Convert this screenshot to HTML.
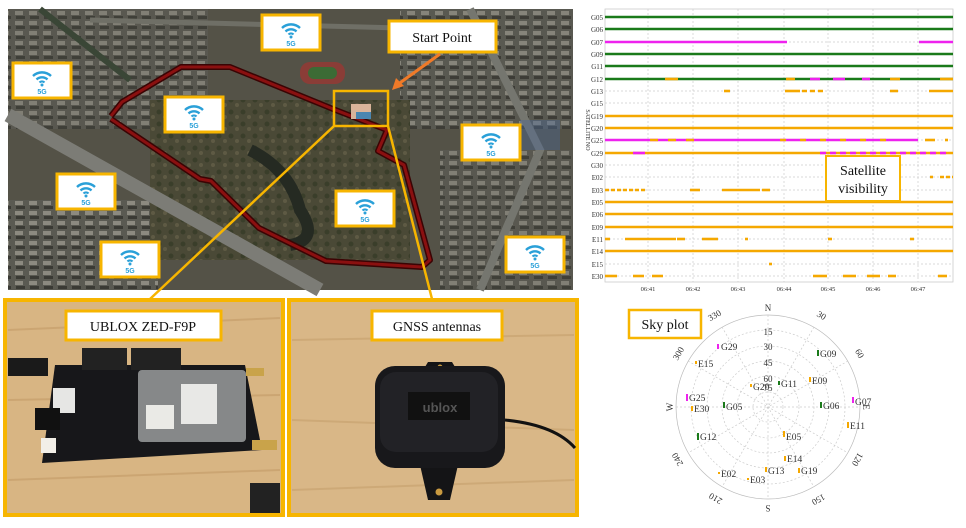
<!DOCTYPE html>
<html><head><meta charset="utf-8"><style>
html,body{margin:0;padding:0;background:#fff;}
svg{display:block;}
text{font-family:"Liberation Serif",serif;}
.s{font-family:"DejaVu Sans","Liberation Sans",sans-serif;}
</style></head><body>
<svg width="966" height="528" viewBox="0 0 966 528" xmlns="http://www.w3.org/2000/svg">
<defs>
<g id="wifi">
<rect x="0" y="0" width="58" height="35" fill="#fff" stroke="#f7b500" stroke-width="3"/>
<path d="M20 13 A13 13 0 0 1 38 13" fill="none" stroke="#2aa0d8" stroke-width="2.4"/>
<path d="M23.5 16.5 A8 8 0 0 1 34.5 16.5" fill="none" stroke="#2aa0d8" stroke-width="2.4"/>
<path d="M26.5 19.5 A3.5 3.5 0 0 1 31.5 19.5" fill="none" stroke="#2aa0d8" stroke-width="2.2"/>
<circle cx="29" cy="22" r="1.5" fill="#2aa0d8"/>
<text x="29" y="31" font-size="7" fill="#2aa0d8" text-anchor="middle" font-weight="bold" style="font-family:'Liberation Sans',sans-serif">5G</text>
</g>
<pattern id="bld" width="14" height="10" patternUnits="userSpaceOnUse">
<rect width="14" height="10" fill="#5a5a52"/>
<rect x="1" y="1" width="8" height="4" fill="#8c8a80"/>
<rect x="2" y="6" width="9" height="3" fill="#3a3a34"/>
</pattern>
<pattern id="grn" width="12" height="12" patternUnits="userSpaceOnUse">
<rect width="12" height="12" fill="#4a4936"/>
<circle cx="3" cy="4" r="2.5" fill="#3a3e2a"/>
<circle cx="9" cy="9" r="2" fill="#5e5a44"/>
</pattern>
</defs>

<!-- MAP -->
<rect x="8" y="9" width="565" height="281" fill="#545247"/>
<rect x="8" y="9" width="200" height="120" fill="url(#bld)" opacity="0.8"/>
<rect x="400" y="9" width="173" height="120" fill="url(#bld)" opacity="0.9"/>
<rect x="8" y="200" width="150" height="90" fill="url(#bld)"/>
<rect x="440" y="150" width="133" height="140" fill="url(#bld)" opacity="0.8"/>
<rect x="150" y="100" width="260" height="160" fill="url(#grn)"/>
<path d="M8 115 L320 290" stroke="#7c7c76" stroke-width="14" fill="none"/>
<path d="M470 9 L540 150 L480 290" stroke="#75766f" stroke-width="8" fill="none"/>
<path d="M40 9 L130 80" stroke="#3a4636" stroke-width="6" fill="none"/>
<path d="M90 20 L400 28" stroke="#6f6f66" stroke-width="5" fill="none"/>
<rect x="300" y="62" width="45" height="22" fill="#8a3d37" rx="10"/>
<rect x="308" y="67" width="29" height="12" fill="#3c6b35" rx="6"/>
<rect x="60" y="180" width="40" height="20" fill="#3d5b86" opacity="0.6"/>
<rect x="520" y="120" width="40" height="30" fill="#4a6a99" opacity="0.4"/>
<path d="M250 150 Q290 170 300 210 Q320 240 290 245" stroke="#252a22" stroke-width="12" fill="none"/>
<polyline points="111,116 122,102 181,67 230,67 333,109 387,130 378,151 404,165 430,260 422,267 326,261 259,228 211,181 200,179 111,119" fill="none" stroke="#3a0404" stroke-width="6" stroke-linejoin="round"/>
<polyline points="111,116 122,102 181,67 230,67 333,109 387,130 378,151 404,165 430,260 422,267 326,261 259,228 211,181 200,179 111,119" fill="none" stroke="#8a1010" stroke-width="3" stroke-linejoin="round"/>

<use href="#wifi" x="262" y="15"/>
<use href="#wifi" x="13" y="63"/>
<use href="#wifi" x="165" y="97"/>
<use href="#wifi" x="462" y="125"/>
<use href="#wifi" x="57" y="174"/>
<use href="#wifi" x="336" y="191"/>
<use href="#wifi" x="101" y="242"/>
<use href="#wifi" x="506" y="237"/>

<rect x="389" y="21" width="107" height="31" fill="#fff" stroke="#f7b500" stroke-width="3"/>
<text x="442" y="42" font-size="14" text-anchor="middle" fill="#111">Start Point</text>
<line x1="440" y1="54" x2="397" y2="85" stroke="#f07a28" stroke-width="3"/>
<polygon points="392,90 396,78 404,86" fill="#f07a28"/>
<rect x="334" y="91" width="54" height="35" fill="none" stroke="#f7b500" stroke-width="2.5"/>
<rect x="351" y="104" width="20" height="15" fill="#d9b49a"/>
<rect x="356" y="112" width="15" height="7" fill="#4a86b0"/>

<line x1="334" y1="126" x2="150" y2="299" stroke="#f7b500" stroke-width="2.5"/>
<line x1="388" y1="126" x2="432" y2="299" stroke="#f7b500" stroke-width="2.5"/>

<!-- LEFT PHOTO -->
<rect x="5" y="300" width="278" height="215" fill="#d8b583" stroke="#f7b500" stroke-width="4"/>
<path d="M8 330 L280 318 M8 400 L280 395 M8 480 L280 470" stroke="#c49b68" stroke-width="2" opacity="0.6"/>
<polygon points="55,365 245,365 262,450 42,463" fill="#17171a"/>
<rect x="82" y="348" width="45" height="22" fill="#222"/>
<rect x="131" y="348" width="50" height="22" fill="#222"/>
<rect x="8" y="358" width="40" height="18" fill="#1a1a1a"/>
<rect x="138" y="370" width="108" height="72" fill="#9a9c9e" opacity="0.85" rx="4"/>
<rect x="181" y="384" width="36" height="40" fill="#e8e8e6"/>
<rect x="146" y="405" width="28" height="24" fill="#eaeae6"/>
<rect x="53" y="388" width="22" height="25" fill="#e6e6e4"/>
<rect x="35" y="408" width="25" height="22" fill="#111"/>
<rect x="41" y="438" width="15" height="15" fill="#f2efe8"/>
<rect x="246" y="368" width="18" height="8" fill="#c9a34a"/>
<rect x="252" y="440" width="25" height="10" fill="#c9a34a"/>
<rect x="250" y="483" width="30" height="30" fill="#222"/>
<rect x="66" y="311" width="155" height="29" fill="#fff" stroke="#f7b500" stroke-width="3"/>
<text x="143" y="331" font-size="14" text-anchor="middle" fill="#111">UBLOX ZED-F9P</text>

<!-- RIGHT PHOTO -->
<rect x="289" y="300" width="288" height="215" fill="#d9b787" stroke="#f7b500" stroke-width="4"/>
<path d="M292 340 L574 335 M292 420 L574 430 M292 490 L574 480" stroke="#c6a06e" stroke-width="2" opacity="0.6"/>
<path d="M505 420 Q555 425 575 448" stroke="#111" stroke-width="3" fill="none"/>
<path d="M428 362 L452 362 L458 372 L422 372 Z" fill="#141416"/>
<path d="M420 465 L458 465 L450 500 L428 500 Z" fill="#141416"/>
<circle cx="440" cy="367" r="2.5" fill="#c99a40"/>
<circle cx="439" cy="492" r="3.5" fill="#c99a40"/>
<rect x="375" y="366" width="130" height="102" rx="20" fill="#18181b"/>
<rect x="380" y="372" width="118" height="80" rx="16" fill="#222226"/>
<rect x="408" y="392" width="62" height="28" fill="#111"/>
<text x="440" y="412" font-size="13" text-anchor="middle" fill="#555" font-weight="bold" style="font-family:'Liberation Sans',sans-serif">ublox</text>
<rect x="372" y="311" width="130" height="29" fill="#fff" stroke="#f7b500" stroke-width="3"/>
<text x="437" y="331" font-size="14" text-anchor="middle" fill="#111">GNSS antennas</text>

<!-- CHART -->
<g stroke="#ccc" stroke-width="0.7" stroke-dasharray="2 2">
<line x1="648" y1="9" x2="648" y2="282"/><line x1="693" y1="9" x2="693" y2="282"/><line x1="738" y1="9" x2="738" y2="282"/><line x1="784" y1="9" x2="784" y2="282"/><line x1="828" y1="9" x2="828" y2="282"/><line x1="873" y1="9" x2="873" y2="282"/><line x1="918" y1="9" x2="918" y2="282"/>
<line x1="605" y1="17" x2="953" y2="17"/><line x1="605" y1="29" x2="953" y2="29"/><line x1="605" y1="42" x2="953" y2="42"/><line x1="605" y1="54" x2="953" y2="54"/><line x1="605" y1="66" x2="953" y2="66"/><line x1="605" y1="79" x2="953" y2="79"/><line x1="605" y1="91" x2="953" y2="91"/><line x1="605" y1="103" x2="953" y2="103"/><line x1="605" y1="116" x2="953" y2="116"/><line x1="605" y1="128" x2="953" y2="128"/><line x1="605" y1="140" x2="953" y2="140"/><line x1="605" y1="153" x2="953" y2="153"/><line x1="605" y1="165" x2="953" y2="165"/><line x1="605" y1="177" x2="953" y2="177"/><line x1="605" y1="190" x2="953" y2="190"/><line x1="605" y1="202" x2="953" y2="202"/><line x1="605" y1="214" x2="953" y2="214"/><line x1="605" y1="227" x2="953" y2="227"/><line x1="605" y1="239" x2="953" y2="239"/><line x1="605" y1="251" x2="953" y2="251"/><line x1="605" y1="264" x2="953" y2="264"/><line x1="605" y1="276" x2="953" y2="276"/>
</g>
<rect x="605" y="9" width="348" height="273" fill="none" stroke="#ccc" stroke-width="0.8"/>
<g stroke-width="2.6" fill="none">
<line x1="605" y1="17" x2="953" y2="17" stroke="#1a7a1a"/>
<line x1="605" y1="29" x2="953" y2="29" stroke="#1a7a1a"/>
<line x1="605" y1="42" x2="787" y2="42" stroke="#ee22ee"/>
<line x1="919" y1="42" x2="953" y2="42" stroke="#ee22ee"/>
<line x1="605" y1="54" x2="953" y2="54" stroke="#1a7a1a"/>
<line x1="605" y1="66" x2="953" y2="66" stroke="#1a7a1a"/>
<line x1="605" y1="79" x2="953" y2="79" stroke="#1a7a1a"/>
<line x1="665" y1="79" x2="678" y2="79" stroke="#f5a800"/>
<line x1="786" y1="79" x2="795" y2="79" stroke="#f5a800"/>
<line x1="810" y1="79" x2="820" y2="79" stroke="#ee22ee"/>
<line x1="833" y1="79" x2="845" y2="79" stroke="#ee22ee"/>
<line x1="862" y1="79" x2="870" y2="79" stroke="#ee22ee"/>
<line x1="890" y1="79" x2="900" y2="79" stroke="#f5a800"/>
<line x1="940" y1="79" x2="953" y2="79" stroke="#f5a800"/>
<line x1="724" y1="91" x2="730" y2="91" stroke="#f5a800"/>
<line x1="785" y1="91" x2="800" y2="91" stroke="#f5a800"/>
<line x1="802" y1="91" x2="825" y2="91" stroke="#f5a800" stroke-dasharray="5 3"/>
<line x1="890" y1="91" x2="898" y2="91" stroke="#f5a800"/>
<line x1="929" y1="91" x2="953" y2="91" stroke="#f5a800"/>
<line x1="605" y1="116" x2="953" y2="116" stroke="#f5a800"/>
<line x1="605" y1="128" x2="953" y2="128" stroke="#f5a800"/>
<line x1="605" y1="140" x2="918" y2="140" stroke="#ee22ee"/>
<line x1="650" y1="140" x2="700" y2="140" stroke="#f5a800" stroke-dasharray="8 10"/>
<line x1="780" y1="140" x2="900" y2="140" stroke="#f5a800" stroke-dasharray="6 14"/>
<line x1="925" y1="140" x2="935" y2="140" stroke="#f5a800"/>
<line x1="945" y1="140" x2="948" y2="140" stroke="#f5a800"/>
<line x1="605" y1="153" x2="953" y2="153" stroke="#f5a800"/>
<line x1="633" y1="153" x2="645" y2="153" stroke="#ee22ee"/>
<line x1="820" y1="153" x2="950" y2="153" stroke="#ee22ee" stroke-dasharray="6 4"/>
<line x1="930" y1="177" x2="933" y2="177" stroke="#f5a800"/>
<line x1="940" y1="177" x2="953" y2="177" stroke="#f5a800" stroke-dasharray="4 2"/>
<line x1="605" y1="190" x2="645" y2="190" stroke="#f5a800" stroke-dasharray="4 2"/>
<line x1="690" y1="190" x2="700" y2="190" stroke="#f5a800"/>
<line x1="722" y1="190" x2="760" y2="190" stroke="#f5a800"/>
<line x1="762" y1="190" x2="770" y2="190" stroke="#f5a800"/>
<line x1="605" y1="202" x2="953" y2="202" stroke="#f5a800"/>
<line x1="605" y1="214" x2="953" y2="214" stroke="#f5a800"/>
<line x1="605" y1="227" x2="953" y2="227" stroke="#f5a800"/>
<line x1="605" y1="239" x2="610" y2="239" stroke="#f5a800"/>
<line x1="625" y1="239" x2="676" y2="239" stroke="#f5a800"/>
<line x1="677" y1="239" x2="685" y2="239" stroke="#f5a800"/>
<line x1="702" y1="239" x2="718" y2="239" stroke="#f5a800"/>
<line x1="745" y1="239" x2="748" y2="239" stroke="#f5a800"/>
<line x1="828" y1="239" x2="832" y2="239" stroke="#f5a800"/>
<line x1="910" y1="239" x2="914" y2="239" stroke="#f5a800"/>
<line x1="605" y1="251" x2="953" y2="251" stroke="#f5a800"/>
<line x1="769" y1="264" x2="772" y2="264" stroke="#f5a800"/>
<line x1="605" y1="276" x2="617" y2="276" stroke="#f5a800"/>
<line x1="633" y1="276" x2="644" y2="276" stroke="#f5a800"/>
<line x1="652" y1="276" x2="663" y2="276" stroke="#f5a800"/>
<line x1="843" y1="276" x2="856" y2="276" stroke="#f5a800"/>
<line x1="867" y1="276" x2="880" y2="276" stroke="#f5a800"/>
<line x1="888" y1="276" x2="896" y2="276" stroke="#f5a800"/>
<line x1="813" y1="276" x2="827" y2="276" stroke="#f5a800"/>
<line x1="938" y1="276" x2="947" y2="276" stroke="#f5a800"/>
</g>
<g font-size="7" fill="#333" text-anchor="end">
<text x="603" y="20">G05</text><text x="603" y="32">G06</text><text x="603" y="45">G07</text><text x="603" y="57">G09</text><text x="603" y="69">G11</text><text x="603" y="82">G12</text><text x="603" y="94">G13</text><text x="603" y="106">G15</text><text x="603" y="119">G19</text><text x="603" y="131">G20</text><text x="603" y="143">G25</text><text x="603" y="156">G29</text><text x="603" y="168">G30</text><text x="603" y="180">E02</text><text x="603" y="193">E03</text><text x="603" y="205">E05</text><text x="603" y="217">E06</text><text x="603" y="230">E09</text><text x="603" y="242">E11</text><text x="603" y="254">E14</text><text x="603" y="267">E15</text><text x="603" y="279">E30</text>
</g>
<text transform="translate(586,130) rotate(90)" font-size="6" fill="#333" text-anchor="middle">SATELLITE NO</text>
<g font-size="6.5" fill="#333" text-anchor="middle">
<text x="648" y="291">06:41</text><text x="693" y="291">06:42</text><text x="738" y="291">06:43</text><text x="784" y="291">06:44</text><text x="828" y="291">06:45</text><text x="873" y="291">06:46</text><text x="918" y="291">06:47</text>
</g>
<rect x="826" y="156" width="74" height="45" fill="#fff" stroke="#f7b500" stroke-width="2"/>
<text x="863" y="175" font-size="14" text-anchor="middle" fill="#111">Satellite</text>
<text x="863" y="193" font-size="14" text-anchor="middle" fill="#111">visibility</text>

<!-- SKY PLOT -->
<g fill="none" stroke="#ccc" stroke-width="0.7">
<circle cx="768" cy="407" r="92" stroke="#bbb"/>
<g stroke-dasharray="2 2">
<circle cx="768" cy="407" r="77"/><circle cx="768" cy="407" r="61"/><circle cx="768" cy="407" r="46"/><circle cx="768" cy="407" r="31"/><circle cx="768" cy="407" r="15"/>
<line x1="768" y1="315" x2="768" y2="499"/><line x1="676" y1="407" x2="860" y2="407"/>
<line x1="814" y1="327" x2="722" y2="487"/><line x1="848" y1="361" x2="688" y2="453"/>
<line x1="722" y1="327" x2="814" y2="487"/><line x1="688" y1="361" x2="848" y2="453"/>
</g></g>
<g font-size="9" fill="#333" text-anchor="middle" class="s">
<text x="768" y="391">75</text><text x="768" y="382">60</text><text x="768" y="366">45</text><text x="768" y="350">30</text><text x="768" y="335">15</text>
<text x="768" y="311">N</text>
<text transform="translate(820,318) rotate(30)">30</text>
<text transform="translate(857,355) rotate(60)">60</text>
<text transform="translate(863,407) rotate(90)">E</text>
<text transform="translate(855,458) rotate(120)">120</text>
<text transform="translate(817,497) rotate(150)">150</text>
<text transform="translate(768,505) rotate(180)">S</text>
<text transform="translate(717,496) rotate(210)">210</text>
<text transform="translate(680,458) rotate(240)">240</text>
<text transform="translate(673,407) rotate(270)">W</text>
<text transform="translate(681,355) rotate(300)">300</text>
<text transform="translate(716,318) rotate(330)">330</text>
</g>
<g font-size="9.5" fill="#333" class="s">
<rect x="717" y="344" width="2" height="5" fill="#ee22ee"/><text x="721" y="350">G29</text>
<rect x="695" y="361" width="2" height="3" fill="#f5a800"/><text x="698" y="367">E15</text>
<rect x="686" y="394" width="2" height="7" fill="#ee22ee"/><text x="689" y="401">G25</text>
<rect x="691" y="406" width="2" height="5" fill="#f5a800"/><text x="694" y="412">E30</text>
<rect x="723" y="402" width="2" height="6" fill="#1a7a1a"/><text x="726" y="410">G05</text>
<rect x="697" y="433" width="2" height="7" fill="#1a7a1a"/><text x="700" y="440">G12</text>
<rect x="718" y="472" width="2" height="2" fill="#f5a800"/><text x="721" y="477">E02</text>
<rect x="747" y="478" width="2" height="2" fill="#f5a800"/><text x="750" y="483">E03</text>
<rect x="765" y="467" width="2" height="5" fill="#f5a800"/><text x="768" y="474">G13</text>
<rect x="784" y="456" width="2" height="5" fill="#f5a800"/><text x="787" y="462">E14</text>
<rect x="798" y="468" width="2" height="5" fill="#f5a800"/><text x="801" y="474">G19</text>
<rect x="783" y="431" width="2" height="6" fill="#f5a800"/><text x="786" y="440">E05</text>
<rect x="847" y="422" width="2" height="6" fill="#f5a800"/><text x="850" y="429">E11</text>
<rect x="820" y="402" width="2" height="6" fill="#1a7a1a"/><text x="823" y="409">G06</text>
<rect x="852" y="397" width="2" height="6" fill="#ee22ee"/><text x="855" y="405">G07</text>
<rect x="809" y="377" width="2" height="5" fill="#f5a800"/><text x="812" y="384">E09</text>
<rect x="817" y="350" width="2" height="6" fill="#1a7a1a"/><text x="820" y="357">G09</text>
<rect x="778" y="381" width="2" height="4" fill="#1a7a1a"/><text x="781" y="387">G11</text>
<rect x="750" y="384" width="2" height="3" fill="#f5a800"/><text x="753" y="390">G20</text>
</g>
<rect x="629" y="310" width="72" height="28" fill="#fff" stroke="#f7b500" stroke-width="2.5"/>
<text x="665" y="329" font-size="14" text-anchor="middle" fill="#111">Sky plot</text>
</svg>
</body></html>
